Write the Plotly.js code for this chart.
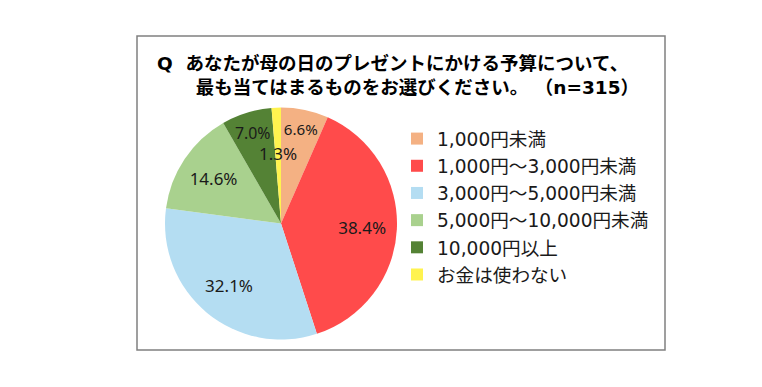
<!DOCTYPE html>
<html>
<head>
<meta charset="utf-8">
<script src="https://cdn.plot.ly/plotly-3.0.1.min.js"></script>
<style>html,body{margin:0;padding:0;background:#fff;} #chart{width:762px;height:387px;}</style>
</head>
<body>
<div id="chart"></div>
<script>
const categories = ["1,000円未満", "1,000円～3,000円未満", "3,000円～5,000円未満", "5,000円～10,000円未満", "10,000円以上", "お金は使わない"];
const values = [6.6, 38.4, 32.1, 14.6, 7.0, 1.3];
const colors = ["#F4B183", "#FF4B4B", "#B4DDF2", "#A9D18E", "#548235", "#FFF34F"];
const titleLine1 = "Q\u00a0\u00a0あなたが母の日のプレゼントにかける予算について、";
const titleLine2 = "\u00a0\u00a0\u00a0\u00a0\u00a0\u00a0最も当てはまるものをお選びください。\u00a0（n=315）";

const W = 762, H = 387;
const dom = {x: [165 / W, 397 / W], y: [1 - 339.5 / H, 1 - 107.5 / H]};
const labelFont = {family: "Noto Sans, DejaVu Sans, sans-serif", size: 17, color: "#1a1a1a"};
const fmt = v => v.toFixed(1) + "%";

// colored pie (slices + legend)
const pie = {
  type: "pie", labels: categories, values: values, sort: false,
  direction: "clockwise", rotation: 0,
  marker: {colors: colors, line: {width: 0}},
  textinfo: "none", hoverinfo: "label+value",
  domain: dom
};
// transparent overlay pie: same data, used only to place the labels in the outer ring
const labelPie = {
  type: "pie", labels: categories, values: values, sort: false,
  direction: "clockwise", rotation: 0, hole: 0.4, showlegend: false,
  marker: {colors: categories.map(() => "rgba(0,0,0,0)"), line: {width: 0}},
  texttemplate: values.map(v => v >= 2 ? "%{value:.1f}%" : ""),
  textposition: "inside", insidetextorientation: "horizontal",
  textfont: labelFont, hoverinfo: "skip",
  domain: dom
};

// labels of very thin slices: placed from the data at the slice's middle angle
const total = values.reduce((a, b) => a + b, 0);
const cx = (dom.x[0] + dom.x[1]) / 2, cy = (dom.y[0] + dom.y[1]) / 2;
const R = Math.min((dom.x[1] - dom.x[0]) * W, (dom.y[1] - dom.y[0]) * H) / 2;
let cum = 0;
const annotations = [];
values.forEach(v => {
  const mid = (cum + v / 2) / total * 2 * Math.PI;
  cum += v;
  if (v < 2) {
    annotations.push({
      xref: "paper", yref: "paper", showarrow: false,
      x: cx + 0.6 * R * Math.sin(mid) / W, y: cy + 0.6 * R * Math.cos(mid) / H,
      text: fmt(v), font: labelFont
    });
  }
});

const layout = {
  width: W, height: H,
  margin: {l: 0, r: 0, t: 0, b: 0},
  paper_bgcolor: "#fff",
  font: {family: "DejaVu Sans, Noto Sans CJK JP, sans-serif", color: "#1a1a1a"},
  title: {
    text: titleLine1 + "<br>" + titleLine2,
    x: 157 / W, xanchor: "left", xref: "paper",
    y: 1 - 70 / H, yanchor: "top", yref: "paper",
    font: {family: "DejaVu Sans, Noto Sans CJK JP, sans-serif", size: 18.5, color: "#000", weight: "bold"}
  },
  showlegend: true,
  legend: {
    x: 397 / W, y: 1 - 120 / H, xanchor: "left", yanchor: "top",
    font: {family: "DejaVu Sans, Noto Sans CJK JP, sans-serif", size: 18.6, color: "#1a1a1a"},
    itemwidth: 30, traceorder: "normal", bgcolor: "rgba(0,0,0,0)"
  },
  annotations: annotations,
  shapes: [{
    type: "rect", xref: "paper", yref: "paper",
    x0: 137 / W, x1: 665 / W, y0: 1 - 350 / H, y1: 1 - 36 / H,
    line: {color: "#808080", width: 1.5}, fillcolor: "rgba(0,0,0,0)", layer: "below"
  }]
};
Plotly.newPlot("chart", [pie, labelPie], layout, {displayModeBar: false, staticPlot: true});
</script>
</body>
</html>
